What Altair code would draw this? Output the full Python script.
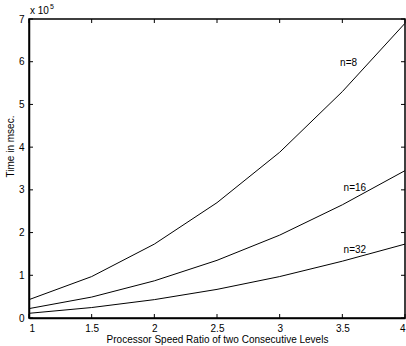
import altair as alt
import pandas as pd

ratio = [1, 1.5, 2, 2.5, 3, 3.5, 4]
n8 = [0.43, 0.97, 1.73, 2.70, 3.88, 5.30, 6.90]
n16 = [0.22, 0.49, 0.87, 1.35, 1.94, 2.65, 3.45]
n32 = [0.11, 0.245, 0.43, 0.67, 0.97, 1.33, 1.73]

x_ticks = [1, 1.5, 2, 2.5, 3, 3.5, 4]
y_ticks = [0, 1, 2, 3, 4, 5, 6, 7]

label_text = ["n=8", "n=16", "n=32"]
label_x = [3.55, 3.6, 3.6]
label_y = [5.98, 3.05, 1.6]

rows = []
for name, vals in [("n=8", n8), ("n=16", n16), ("n=32", n32)]:
    for r, v in zip(ratio, vals):
        rows.append({"ratio": r, "time": v, "series": name})
df = pd.DataFrame(rows)
labels = pd.DataFrame({"t": label_text, "x": label_x, "y": label_y})
xt = pd.DataFrame({"v": x_ticks})
yt = pd.DataFrame({"v": y_ticks})

FONT = "Liberation Sans"
W, H = 376, 299

xscale = alt.Scale(domain=[1, 4], nice=False)
yscale = alt.Scale(domain=[0, 7], nice=False)

lines = alt.Chart(df).mark_line(color="black", strokeWidth=1).encode(
    x=alt.X("ratio:Q", scale=xscale,
            axis=alt.Axis(values=x_ticks, format="~g", title="Processor Speed Ratio of two Consecutive Levels",
                          tickSize=0, labelPadding=5, titlePadding=1, grid=False)),
    y=alt.Y("time:Q", scale=yscale,
            axis=alt.Axis(values=y_ticks, format="d", title="Time in msec.", tickSize=0,
                          labelPadding=5, titlePadding=3, titleY=127, grid=False)),
    detail="series:N",
)

text = alt.Chart(labels).mark_text(font=FONT, fontSize=10, color="black").encode(
    x=alt.X("x:Q", scale=xscale), y=alt.Y("y:Q", scale=yscale), text="t:N"
)

tick_len = 4
xb = alt.Chart(xt).mark_rule(color="black", strokeWidth=1).encode(
    x=alt.X("v:Q", scale=xscale), y=alt.value(H), y2=alt.value(H - tick_len))
xtop = alt.Chart(xt).mark_rule(color="black", strokeWidth=1).encode(
    x=alt.X("v:Q", scale=xscale), y=alt.value(0), y2=alt.value(tick_len))
yl = alt.Chart(yt).mark_rule(color="black", strokeWidth=1).encode(
    y=alt.Y("v:Q", scale=yscale), x=alt.value(0), x2=alt.value(tick_len))
yr = alt.Chart(yt).mark_rule(color="black", strokeWidth=1).encode(
    y=alt.Y("v:Q", scale=yscale), x=alt.value(W), x2=alt.value(W - tick_len))

exp_base = alt.Chart(pd.DataFrame({"t": ["x 10"]})).mark_text(
    font=FONT, fontSize=10, align="left", baseline="alphabetic", color="black").encode(
    x=alt.value(1), y=alt.value(-5), text="t:N")
exp_sup = alt.Chart(pd.DataFrame({"t": ["5"]})).mark_text(
    font=FONT, fontSize=7, align="left", baseline="alphabetic", color="black").encode(
    x=alt.value(21), y=alt.value(-10), text="t:N")

chart = alt.layer(lines, text, xb, xtop, yl, yr, exp_base, exp_sup).properties(
    width=W, height=H,
    background="white",
    autosize=alt.AutoSizeParams(type="none"),
    padding={"left": 29, "top": 19, "right": 1, "bottom": 28},
).configure_view(stroke="black", strokeWidth=1.5).configure_axis(
    labelFont=FONT, titleFont=FONT, labelFontSize=10, titleFontSize=10,
    titleFontWeight="normal", labelColor="black", titleColor="black",
    domainColor="black", domainWidth=1.5,
)

chart.save("out.html", embed_options={"renderer": "svg", "actions": False})
